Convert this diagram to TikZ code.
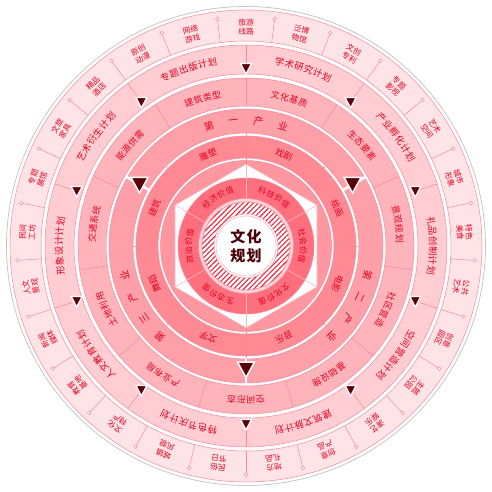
\documentclass[tikz,border=0pt]{standalone}
\usepackage{fontspec}
\setmainfont{Noto Sans CJK SC}
\usetikzlibrary{patterns.meta}
\definecolor{ringA}{HTML}{FFE4E7}
\definecolor{ringB}{HTML}{FFCDD2}
\definecolor{ringC}{HTML}{FFB4BB}
\definecolor{ringD}{HTML}{FFA0A8}
\definecolor{ringE}{HTML}{FF8A94}
\definecolor{ringIn}{HTML}{FF97A0}
\definecolor{ringF}{HTML}{FF6F7D}
\definecolor{paleR}{HTML}{FFD3D8}
\definecolor{edgec}{HTML}{F4899A}
\definecolor{txt}{HTML}{E4001E}
\definecolor{tric}{HTML}{5A0008}
\definecolor{hatchc}{HTML}{E2283E}
\definecolor{darkc}{HTML}{4A0008}
\newcommand\annulus[3]{%
  \path[fill=#1,even odd rule] (0,0) circle (#3) (0,0) circle (#2);
  \draw[edgeline] (0,0) circle (#3) (0,0) circle (#2);}
\newcommand\arctxt[7]{%
  \edef\arclist{#6}%
  \foreach \ch [count=\ci] in \arclist{%
    \pgfmathsetmacro\ang{#3+((#5+1)/2-\ci)*#4}%
    \node[#1,rotate=\ang-90] (#7-\ci) at (\ang:#2) {\ch};}}
\begin{document}
\begin{tikzpicture}[x=1pt,y=1pt,
  edgeline/.style={draw=edgec,line width=0.5pt},
  sepline/.style={draw=edgec,line width=0.5pt},
  dotmark/.style={fill=white,draw=edgec,line width=0.5pt},
  tA/.style={text=txt,inner sep=0pt,align=center,font=\fontsize{7.7}{9.2}\selectfont},
  tB/.style={text=txt,inner sep=0pt,font=\fontsize{9.3}{9.3}\selectfont},
  tC/.style={text=txt,inner sep=0pt,font=\fontsize{8.9}{8.9}\selectfont},
  tD/.style={text=txt,inner sep=0pt,font=\fontsize{10}{10}\selectfont},
  tE/.style={text=txt,inner sep=0pt,font=\fontsize{8.9}{8.9}\selectfont},
  tF/.style={text=txt,inner sep=0pt,font=\fontsize{8}{8}\selectfont},
  smalltri/.style={fill=tric,draw=white,line width=1.3pt,line join=miter},
  bigtri/.style={fill=tric,draw=white,line width=1.5pt,line join=miter}]
\useasboundingbox (-246,-246) rectangle (246,246);
% outer gray circle
\draw[gray!45,line width=0.8pt] (0,0) circle (239.5);
% ring A
\annulus{ringA}{205}{236}
\foreach \k in {0,...,24}{
  \pgfmathsetmacro\ang{90-7.2-14.4*\k}
  \draw[sepline] (\ang:205) -- (\ang:229);
  \filldraw[dotmark] (\ang:229) circle (1.8);
}
\foreach \a/\b [count=\k from 0] in {旅游/线路,泛博/物馆,文创/专利,专题/影视,艺术/空间,城市/形象,特色/美食,公共/艺术,创意/园区,主题/公园,演艺/娱乐,创意/产品,地方/礼品,民俗/节日,城镇/风貌,文化/特产,教育/基地,新闻/媒体,人文/景观,民间/工坊,专题/展馆,文旅/家具,精品/酒店,原创/动漫,网络/游戏}{
  \pgfmathsetmacro\ang{90-14.4*\k}
  \node[tA,rotate=\ang-90] (A\k) at (\ang:219) {\a\\\b};
}
% ring B
\annulus{ringB}{172}{201}
\foreach \k in {0,...,9}{
  \pgfmathsetmacro\ang{90+36*\k}
  \draw[sepline] (\ang:183) -- (\ang:201);
}
\arctxt{tB}{187}{72}{3.05}{6}{学,术,研,究,计,划}{b0}
\arctxt{tB}{187}{36}{3.05}{6}{产,业,孵,化,计,划}{b1}
\arctxt{tB}{187}{0}{3.05}{6}{礼,品,创,制,计,划}{b2}
\arctxt{tB}{187}{-36}{3.05}{6}{空,间,营,造,计,划}{b3}
\arctxt{tB}{187}{-72}{3.05}{6}{建,筑,文,脉,计,划}{b4}
\arctxt{tB}{187}{-108}{3.05}{6}{特,色,节,庆,计,划}{b5}
\arctxt{tB}{187}{-144}{3.05}{6}{人,文,教,育,计,划}{b6}
\arctxt{tB}{187}{180}{3.05}{6}{形,象,设,计,计,划}{b7}
\arctxt{tB}{187}{144}{3.05}{6}{艺,术,衍,生,计,划}{b8}
\arctxt{tB}{187}{108}{3.05}{6}{专,题,出,版,计,划}{b9}
% ring C
\annulus{ringC}{140}{168}
\foreach \k in {0,...,10}{
  \pgfmathsetmacro\ang{90+32.7273*\k}
  \draw[sepline] (\ang:140) -- (\ang:168);
}
\arctxt{tC}{154}{106.3636}{3.55}{4}{建,筑,类,型}{c0}
\arctxt{tC}{154}{73.6364}{3.55}{4}{文,化,基,质}{c1}
\arctxt{tC}{154}{40.9091}{3.55}{4}{生,态,要,素}{c2}
\arctxt{tC}{154}{8.1818}{3.55}{4}{景,观,规,划}{c3}
\arctxt{tC}{154}{-24.5455}{3.55}{4}{社,区,营,造}{c4}
\arctxt{tC}{154}{-57.2727}{3.55}{4}{基,础,设,施}{c5}
\arctxt{tC}{154}{-90}{3.55}{4}{空,间,形,态}{c6}
\arctxt{tC}{154}{-122.7273}{3.55}{4}{产,业,布,局}{c7}
\arctxt{tC}{154}{-155.4545}{3.55}{4}{土,地,利,用}{c8}
\arctxt{tC}{154}{171.8182}{3.55}{4}{交,通,系,统}{c9}
\arctxt{tC}{154}{139.0909}{3.55}{4}{能,源,供,需}{c10}
% ring D
\annulus{ringD}{113}{137}
\foreach \a in {30,-90,150}{
  \draw[white,line width=2.5pt] (\a:112) -- (\a:138);
}
\arctxt{tD}{125}{90}{11.5}{4}{第,一,产,业}{d1}
\arctxt{tD}{125}{-30}{11}{4}{第,二,产,业}{d2}
\arctxt{tD}{125}{-150}{11}{4}{第,三,产,业}{d3}
% ring E
\annulus{ringE}{88}{110}
\foreach \k in {0,...,7}{
  \pgfmathsetmacro\ang{45*\k}
  \draw[sepline] (\ang:88) -- (\ang:112);
}
\foreach \w/\c [count=\k from 0] in {雕塑/112.5,戏剧/67.5,绘画/22.5,电影/-22.5,音乐/-67.5,文学/-112.5,舞蹈/-157.5,建筑/157.5}{
  \node[tE,rotate=\c-90] (E\k) at (\c:99) {\w};
}
% inner pink disk and hexagon
\filldraw[fill=ringIn,draw=edgec,line width=0.5pt] (0,0) circle (85.5);
\filldraw[fill=white,draw=edgec!70,line width=0.6pt] (90:82) -- (150:82) -- (210:82) -- (270:82) -- (330:82) -- (30:82) -- cycle;
\foreach \a in {90,-90}{ \draw[sepline] (\a:82) -- (\a:88); }
% ring F
\annulus{ringF}{47.5}{68}
\foreach \k in {0,...,5}{
  \pgfmathsetmacro\ang{30+60*\k}
  \draw[draw=edgec!60,line width=0.6pt] (\ang:47.5) -- (\ang:82);
}
\arctxt{tF}{57.5}{120}{9}{4}{经,济,价,值}{f0}
\arctxt{tF}{57.5}{60}{9}{4}{科,技,价,值}{f1}
\arctxt{tF}{57.5}{0}{9}{4}{社,会,价,值}{f2}
\arctxt{tF}{57.5}{-60}{9}{4}{文,化,价,值}{f3}
\arctxt{tF}{57.5}{-120}{9}{4}{生,态,价,值}{f4}
\arctxt{tF}{57.5}{180}{9}{4}{政,治,价,值}{f5}
% pale ring and hatch ring
\annulus{paleR}{44}{47.5}
\path[fill=white,even odd rule] (0,0) circle (44) (0,0) circle (32);
\path[pattern={Lines[angle=45,distance=3.6pt,line width=1.1pt]},pattern color=hatchc,even odd rule] (0,0) circle (44) (0,0) circle (32);
\draw[edgeline] (0,0) circle (44) (0,0) circle (32);
% center
\filldraw[fill=white,draw=edgec!60,line width=0.6pt] (0,0) circle (30);
\node[text=darkc,align=center,inner sep=0pt,font=\fontsize{15}{19}\selectfont\bfseries] (ctr) at (0,0) {文\hspace{1.5pt}化\\规\hspace{1.5pt}划};
% ring D markers (big triangles)
\foreach \a in {30,-90,150}{
  \begin{scope}[shift={(\a:123)}]
    \filldraw[bigtri] (-8.5,7) -- (8.5,7) -- (0,-8.5) -- cycle;
  \end{scope}
}
% ring B markers (small triangles)
\foreach \k in {0,...,9}{
  \pgfmathsetmacro\ang{90+36*\k}
  \begin{scope}[shift={(\ang:178)}]
    \filldraw[smalltri] (-5.5,4.5) -- (5.5,4.5) -- (0,-6) -- cycle;
  \end{scope}
}
\end{tikzpicture}
\end{document}
